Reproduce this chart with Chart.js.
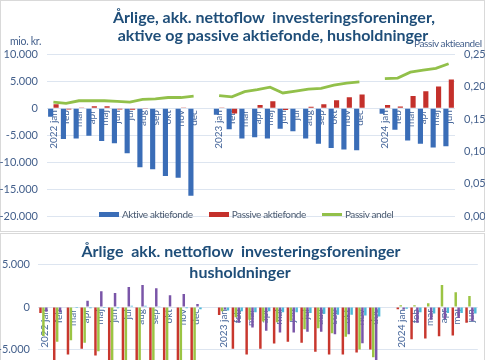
<!DOCTYPE html>
<html>
<head>
<meta charset="utf-8">
<script src="https://cdn.jsdelivr.net/npm/chart.js@4.4.1/dist/chart.umd.min.js"></script>
<style>
  body { margin: 0; width: 485px; height: 360px; overflow: hidden; position: relative; background: #fff; font-family: Lato, sans-serif; }
  .frame { position: absolute; border: 1px solid #d9d9d9; box-sizing: border-box; }
  canvas { position: absolute; left: 0; }
  .title { position: absolute; color: #1f4e79; font-weight: bold; white-space: nowrap; transform: translateX(-50%); line-height: 20px; font-size: 16px; }
  .cap { position: absolute; font-size: 10.5px; letter-spacing: -0.3px; line-height: 13px; color: #44608c; white-space: nowrap; }
  #legend { position: absolute; top: 208px; left: 99px; display: flex; font-size: 10px; letter-spacing: -0.4px; line-height: 13px; color: #4a5a70; white-space: nowrap; }
  #legend .item { display: flex; align-items: center; margin-right: 16px; }
  #legend .sw { width: 20px; margin-right: 3px; }
</style>
</head>
<body>
<div class="frame" style="left:0; top:0; width:485px; height:232px;"></div>
<div class="frame" style="left:0; top:233px; width:485px; height:140px;"></div>

<canvas id="topChart" width="485" height="232" style="top:0"></canvas>
<canvas id="bottomChart" width="485" height="250" style="top:233px"></canvas>

<div class="title" style="left:274px; top:7px;">Årlige, akk. nettoflow&nbsp; investeringsforeninger,</div>
<div class="title" style="left:273px; top:25px;">aktive og passive aktiefonde, husholdninger</div>
<div class="cap" style="left:10px; top:35px;">mio. kr.</div>
<div class="cap" style="left:414px; top:37px; font-size:10px; letter-spacing:-0.4px;">Passiv aktieandel</div>
<div id="legend"></div>

<div class="title" style="left:241px; top:241px;">Årlige&nbsp; akk. nettoflow&nbsp; investeringsforeninger</div>
<div class="title" style="left:240px; top:262px;">husholdninger</div>

<script>
// x-axis categories (empty label = gap between years)
const labels = [
    '2022 jan', 'feb', 'mar', 'apr', 'maj', 'jun', 'jul', 'aug', 'sep', 'okt', 'nov', 'dec', '',
    '2023 jan', 'feb', 'mar', 'apr', 'maj', 'jun', 'jul', 'aug', 'sep', 'okt', 'nov', 'dec', '',
    '2024 jan', 'feb', 'mar', 'apr', 'maj', 'jun',
];

// top chart, mio. kr.
const aktive = [
    -1600, -5700, -5600, -5100, -6050, -6500, -8350, -10900, -11300, -12550, -12850, -16200, null,
    -1200, -3900, -5600, -5400, -5600, -3800, -4250, -5600, -6600, -7350, -7650, -7800, null,
    -1050, -4000, -6000, -6600, -7250, -7050,
];
const passive = [
    700, -250, 100, 350, 350, -250, -300, -50, -100, -100, 100, 0, null,
    100, -1000, 0, 600, 1250, -350, 0, 250, 700, 1450, 2000, 2500, null,
    600, 300, 2250, 3100, 4000, 5300,
];
// right axis share
const andel = [
    0.176, 0.174, 0.178, 0.178, 0.178, 0.177, 0.176, 0.180, 0.181, 0.183, 0.183, 0.185, null,
    0.186, 0.184, 0.192, 0.195, 0.199, 0.190, 0.193, 0.196, 0.197, 0.202, 0.205, 0.207, null,
    0.212, 0.213, 0.222, 0.225, 0.228, 0.235,
];
const topTicks = [-20000, -15000, -10000, -5000, 0, 5000, 10000];

// bottom chart, four series (legend not visible in the picture)
const serieRed = [
    -700, -7000, -5600, -4900, -5700, -7500, -8000, -8600, -9000, -9400, -9800, -10500, null,
    -930, -4900, -5600, -4900, -4300, -4100, -4200, -5250, -5600, -5600, -5350, -5000, null,
    -250, -3800, -3700, -3450, -3350, -1850,
];
const serieGreen = [
    -3400, -4100, -3900, -4200, -5200, -6800, -7200, -7500, -7000, -7600, -8000, -8800, null,
    -500, -1200, -1500, -1700, -1800, -1600, -2600, -2500, -3100, -3500, -5000, -5900, null,
    200, 200, 450, 2600, 1750, 1300,
];
const seriePurple = [
    -550, -650, -50, 750, 1850, 1650, 2350, 2600, 2200, 1400, 1550, 350, null,
    -300, -1850, -2400, -2800, -3000, -3000, -2900, -2900, -3200, -3200, -4250, -6800, null,
    -300, -1850, -1500, -1400, -1300, -1650,
];
const serieCyan = [
    -50, -50, -100, -150, -100, -150, 150, 150, 100, -50, -150, -250, null,
    -400, -500, -600, -500, -600, -600, -700, -800, -900, -900, -1000, -1100, null,
    -200, -600, -750, -700, -700, -750,
];
const bottomTicks = [-15000, -10000, -5000, 0, 5000];

const gridColor = '#dde5f0';
const tickColor = '#44608c';
const tickFont = {family: 'Lato', size: 11};

function thousands(v) {
    const s = Math.abs(v).toString().replace(/\B(?=(\d{3})+(?!\d))/g, '.');
    return (v < 0 ? '-' : '') + s;
}

// x axis sits on the zero line, labels drawn over the bars
function zeroAxis() {
    return {
        position: {y: 0},
        z: 1,
        grid: {display: false, drawTicks: false},
        border: {display: false},
        ticks: {autoSkip: false, minRotation: 90, maxRotation: 90, padding: 2, color: '#46669a',
            font: {family: 'Lato', size: 10}},
    };
}

const topChart = new Chart(document.getElementById('topChart'), {
    type: 'bar',
    data: {
        labels: labels,
        datasets: [
            {label: 'Aktive aktiefonde', data: aktive, backgroundColor: '#3a6db7', order: 1},
            {label: 'Passive aktiefonde', data: passive, backgroundColor: '#c4302b', order: 1},
            {
                type: 'line', label: 'Passiv andel', data: andel, yAxisID: 'y2',
                borderColor: '#92c04a', backgroundColor: '#92c04a', borderWidth: 2.8,
                pointRadius: 0, spanGaps: false, order: 0,
            },
        ],
    },
    options: {
        responsive: false,
        animation: false,
        layout: {padding: {top: 54, bottom: 8, left: 0, right: 0}},
        datasets: {bar: {categoryPercentage: 0.85, barPercentage: 0.95}},
        plugins: {legend: {display: false}, tooltip: {enabled: false}},
        scales: {
            x: zeroAxis(),
            y: {
                position: 'left', min: -20000, max: 10000,
                afterBuildTicks: (scale) => { scale.ticks = topTicks.map((v) => ({value: v})); },
                ticks: {padding: 9, color: tickColor, font: tickFont, callback: thousands},
                grid: {color: gridColor, drawTicks: false},
                border: {display: false},
                afterFit: (scale) => { scale.width = 47; },
            },
            y2: {
                position: 'right', min: 0, max: 0.25,
                ticks: {stepSize: 0.05, padding: 9, color: tickColor, font: tickFont,
                    callback: (v) => v.toFixed(2).replace('.', ',')},
                grid: {drawOnChartArea: false, drawTicks: false},
                border: {display: false},
                afterFit: (scale) => { scale.width = 30; },
            },
        },
    },
});

// legend for the top chart, built from its datasets
const legend = document.getElementById('legend');
topChart.data.datasets.forEach((ds) => {
    const item = document.createElement('span');
    item.className = 'item';
    const sw = document.createElement('span');
    sw.className = 'sw';
    sw.style.height = ds.type === 'line' ? '2.5px' : '5px';
    sw.style.background = ds.backgroundColor;
    item.appendChild(sw);
    item.appendChild(document.createTextNode(ds.label));
    legend.appendChild(item);
});

new Chart(document.getElementById('bottomChart'), {
    type: 'bar',
    data: {
        labels: labels,
        datasets: [
            {label: 'Serie 1', data: serieRed, backgroundColor: '#c8372e'},
            {label: 'Serie 2', data: serieGreen, backgroundColor: '#9bc443'},
            {label: 'Serie 3', data: seriePurple, backgroundColor: '#7a55a8'},
            {label: 'Serie 4', data: serieCyan, backgroundColor: '#4cb8d8'},
        ],
    },
    options: {
        responsive: false,
        animation: false,
        layout: {padding: {top: 8, bottom: 8, left: 0, right: 5}},
        datasets: {bar: {categoryPercentage: 0.85, barPercentage: 0.85}},
        plugins: {legend: {display: false}, tooltip: {enabled: false}},
        scales: {
            x: zeroAxis(),
            y: {
                min: -19000, max: 7000,
                afterBuildTicks: (scale) => { scale.ticks = bottomTicks.map((v) => ({value: v})); },
                ticks: {padding: 8, color: tickColor, font: tickFont, callback: thousands},
                grid: {color: gridColor, drawTicks: false},
                border: {display: false},
                afterFit: (scale) => { scale.width = 38; },
            },
        },
    },
});
</script>
</body>
</html>
